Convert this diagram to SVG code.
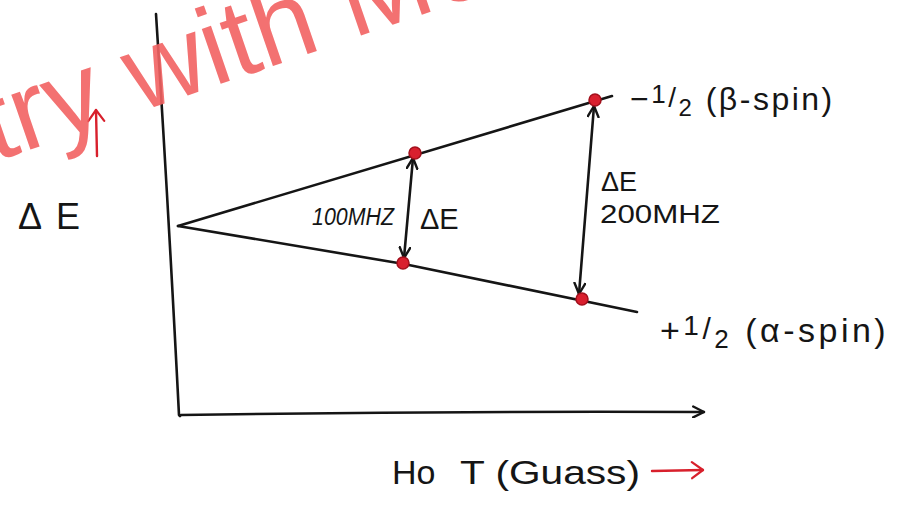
<svg xmlns="http://www.w3.org/2000/svg" width="897" height="507" viewBox="0 0 897 507">
<style>
.ink{fill:none;stroke:#151515;stroke-width:2.6;stroke-linecap:round;stroke-linejoin:round}
.red{fill:none;stroke:#d8202c;stroke-width:2.4;stroke-linecap:round}
.t{font-family:"Liberation Sans","Open Sans",sans-serif;fill:#151515}
.dot{fill:#d91f2e;stroke:#a3101c;stroke-width:1.5}
.wm{font-family:"Liberation Sans","Open Sans",sans-serif;font-size:110px;fill:#f26262;opacity:0.9}
</style>
<defs>
<marker id="chev" viewBox="0 0 12 12" refX="11" refY="6" markerWidth="13" markerHeight="13" markerUnits="userSpaceOnUse" orient="auto-start-reverse">
<path d="M1,1 L11,6 L1,11" fill="none" stroke="#151515" stroke-width="2.2" stroke-linecap="round" stroke-linejoin="round"/>
</marker>
<marker id="chevr" viewBox="0 0 14 20" refX="13" refY="10" markerWidth="14" markerHeight="20" markerUnits="userSpaceOnUse" orient="auto-start-reverse">
<path d="M2,2 L13,10 L2,18" fill="none" stroke="#d8202c" stroke-width="2.2" stroke-linecap="round" stroke-linejoin="round"/>
</marker>
</defs>
<rect width="897" height="507" fill="#ffffff"/>

<g id="axes">
<path class="ink" d="M156,14 Q168,200 179,415 L180,416"/>
<path class="ink" d="M181,415 Q440,411 704,412" marker-end="url(#chev)"/>
</g>

<g id="connectors">
<g id="levels">
<path class="ink" d="M178,226 L612,96"/>
<path class="ink" d="M178,226 L404,264 L637,312"/>
</g>
<path class="ink" d="M413,158 L404,258" marker-start="url(#chev)" marker-end="url(#chev)"/>
<path class="ink" d="M594,106 L579,294" marker-start="url(#chev)" marker-end="url(#chev)"/>
<path class="red" d="M97,156 L96,110" marker-end="url(#chevr)"/>
<path class="red" d="M652,471 L703,470" marker-end="url(#chevr)"/>
</g>

<g id="points">
<circle id="p1" class="dot" cx="415" cy="153" r="6"/>
<circle id="p2" class="dot" cx="403" cy="263" r="6"/>
<circle id="p3" class="dot" cx="595" cy="100" r="6"/>
<circle id="p4" class="dot" cx="582" cy="299" r="6"/>
</g>

<g id="label-deltaE-axis">
<text class="t" x="18" y="229" font-size="36" textLength="62" lengthAdjust="spacing">Δ E</text>
</g>
<g id="label-100">
<text class="t" x="312" y="225" font-size="23" font-style="italic" textLength="82" lengthAdjust="spacingAndGlyphs">100MHZ</text>
<text class="t" x="420" y="229" font-size="29">ΔE</text>
</g>
<g id="label-200">
<text class="t" x="601" y="191" font-size="27">ΔE</text>
<text class="t" x="600" y="223" font-size="25" textLength="120" lengthAdjust="spacingAndGlyphs">200MHZ</text>
</g>
<g id="label-beta">
<text class="t" x="630" y="110" font-size="32" letter-spacing="2.5">−<tspan font-size="26" dy="-7">1</tspan><tspan font-size="28" dy="4">/</tspan><tspan font-size="24" dy="9">2</tspan><tspan dy="-6"> (β-spin)</tspan></text>
</g>
<g id="label-alpha">
<text class="t" x="660" y="342" font-size="34" letter-spacing="3.5">+<tspan font-size="28" dy="-7">1</tspan><tspan font-size="30" dy="4">/</tspan><tspan font-size="26" dy="9">2</tspan><tspan dy="-6"> (α-spin)</tspan></text>
</g>
<g id="label-xaxis">
<text class="t" x="392" y="484" font-size="34">Ho</text>
<text class="t" x="460" y="484" font-size="34" textLength="180" lengthAdjust="spacingAndGlyphs">T (Guass)</text>
</g>

<g id="watermark">
<text class="wm" transform="translate(0,160) rotate(-19)" x="-6" y="0">try with Me</text>
</g>
</svg>
